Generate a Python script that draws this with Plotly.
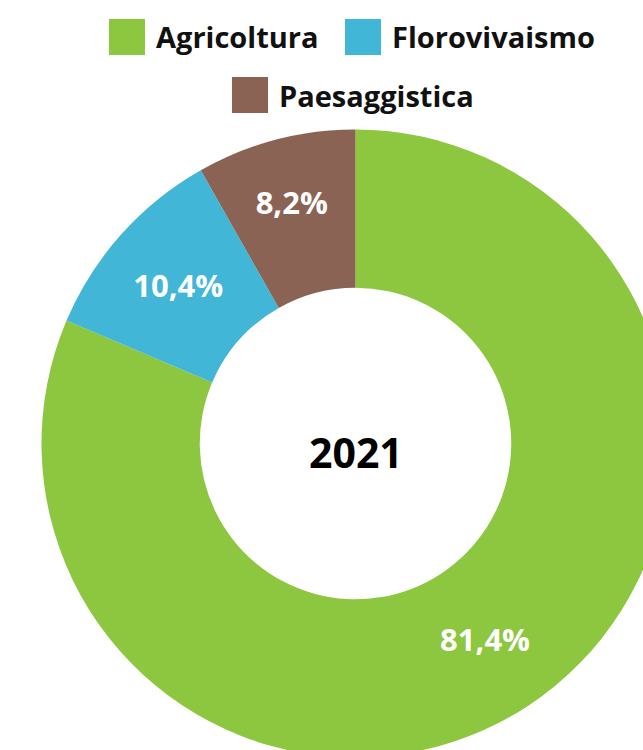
import plotly.graph_objects as go

# ---- data ----
categories = ["Agricoltura", "Florovivaismo", "Paesaggistica"]
shares = [81.4, 10.4, 8.2]
year_label = "2021"

# ---- styles ----
colors = ["#8DC63F", "#41B6D6", "#8B6354"]
FONT = "Open Sans"
W, H = 670, 758           # figure larger than window; pie overflows right/bottom like the reference
CX, CY, R = 355.5, 443.5, 314.0

fig = go.Figure(
    go.Pie(
        labels=categories,
        values=shares,
        hole=0.496,
        sort=False,
        direction="clockwise",
        rotation=0,
        marker=dict(colors=colors, line=dict(width=0)),
        texttemplate="%{percent:.1%}",
        textposition="inside",
        insidetextorientation="horizontal",
        textfont=dict(family=FONT, size=31, color="white", weight="bold"),
        domain=dict(x=[(CX - R) / W, min(1, (CX + R) / W)],
                    y=[max(0, 1 - (CY + R) / H), 1 - (CY - R) / H]),
        showlegend=False,
        hoverinfo="label+percent",
    )
)

# ---- custom legend (large square swatches) ----
legend_pos = [(109, 37), (345, 37), (232, 95)]  # left edge of swatch, vertical centre (px)
SW = 36
shapes, annotations = [], []
for name, col, (lx, ly) in zip(categories, colors, legend_pos):
    shapes.append(dict(type="rect", xref="paper", yref="paper",
                       x0=lx / W, x1=(lx + SW) / W,
                       y0=1 - (ly + SW / 2) / H, y1=1 - (ly - SW / 2) / H,
                       fillcolor=col, line=dict(width=0)))
    annotations.append(dict(text=name, xref="paper", yref="paper",
                            x=(lx + SW + 9) / W, y=1 - ly / H,
                            xanchor="left", yanchor="middle", showarrow=False,
                            font=dict(family=FONT, size=29, color="#111111", weight="bold")))

# centre label in the hole
annotations.append(dict(text=year_label, xref="paper", yref="paper",
                        x=CX / W, y=1 - (CY + 8) / H,
                        xanchor="center", yanchor="middle", showarrow=False,
                        font=dict(family=FONT, size=41, color="black", weight="bold")))

fig.update_layout(
    width=W, height=H,
    margin=dict(l=0, r=0, t=0, b=0),
    paper_bgcolor="white", plot_bgcolor="white",
    separators=",.",
    shapes=shapes, annotations=annotations,
)

fig.write_html("out.html",
               post_script="document.body.style.margin='0';document.body.style.overflow='hidden';document.documentElement.style.overflow='hidden';")
